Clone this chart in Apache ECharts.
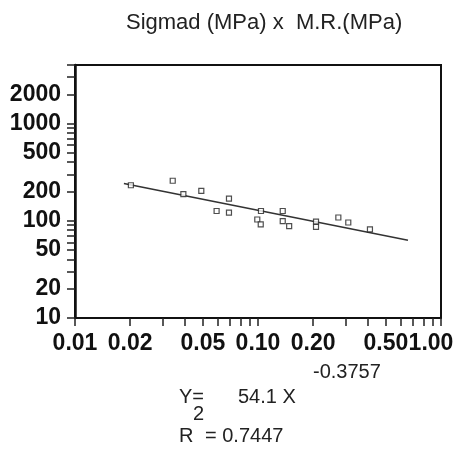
<!DOCTYPE html>
<html>
<head>
<meta charset="utf-8">
<script src="https://cdn.jsdelivr.net/npm/echarts@6/dist/echarts.min.js"></script>
<style>
  html, body { margin: 0; padding: 0; background: #fff; }
  #chart { width: 460px; height: 449px; }
</style>
</head>
<body>
<div id="chart"></div>
<script>
// ---- data ----
const titleText = 'Sigmad (MPa) x  M.R.(MPa)';
const sigmad = [0.0202, 0.0342, 0.0391, 0.0490, 0.0594, 0.0694, 0.0694, 0.1038, 0.0991, 0.1035,
                0.1365, 0.1365, 0.148, 0.2075, 0.2075, 0.2748, 0.3114, 0.409];
const mr = [232, 258, 188, 203, 126, 169, 121, 126, 103, 92,
            126, 99, 88, 98, 86.5, 108, 96, 81.5];
const fitX = [0.0185, 0.66];
const fitY = [242, 63];
const xTicks = [0.01, 0.02, 0.03, 0.04, 0.05, 0.06, 0.07, 0.08, 0.09, 0.1,
                0.2, 0.3, 0.4, 0.5, 0.6, 0.7, 0.8, 0.9, 1];
const xLabels = [0.01, 0.02, 0.05, 0.1, 0.2, 0.5, 1];
const yTicks = [10, 20, 30, 40, 50, 60, 70, 80, 90, 100, 200, 300, 400, 500, 600, 700, 800, 900,
                1000, 2000, 3000, 4000];
const yLabels = [10, 20, 50, 100, 200, 500, 1000, 2000];
const eqCoef = '54.1 X';
const eqExp = '-0.3757';
const eqR2 = '= 0.7447';

const chart = echarts.init(document.getElementById('chart'), null, { renderer: 'canvas' });

const labelFont = { fontFamily: 'Liberation Sans', fontWeight: 'bold', fontSize: 23, color: '#111' };
const eqFont = 'normal 20px "Liberation Sans"';

chart.setOption({
  animation: false,
  backgroundColor: '#fff',
  grid: { left: 75, right: 19, top: 65, bottom: 131, show: true, borderColor: '#111', borderWidth: 2, backgroundColor: 'transparent' },
  xAxis: {
    type: 'log', logBase: 10, min: 0.01, max: 1,
    axisLine: { show: true, lineStyle: { color: '#111', width: 2 } },
    axisTick: { show: true, inside: false, length: 8, customValues: xTicks, lineStyle: { color: '#222', width: 1.5 } },
    axisLabel: Object.assign({
      customValues: xLabels, margin: 14,
      formatter: function (v) {
        const s = Number(v).toFixed(2);
        return v >= 0.99 ? '{last|' + s + '}' : s;
      },
      rich: { last: { fontFamily: 'Liberation Sans', fontWeight: 'bold', fontSize: 23, color: '#111', padding: [0, 20, 0, 0] } }
    }, labelFont),
    splitLine: { show: false }, minorTick: { show: false }
  },
  yAxis: {
    type: 'log', logBase: 10, min: 10, max: 4000,
    axisLine: { show: true, lineStyle: { color: '#111', width: 2.5 } },
    axisTick: { show: true, inside: false, length: 8, customValues: yTicks, lineStyle: { color: '#222', width: 1.5 } },
    axisLabel: Object.assign({ customValues: yLabels, margin: 14, formatter: function (v) { return String(Math.round(v)); } }, labelFont),
    splitLine: { show: false }, minorTick: { show: false }
  },
  series: [
    {
      type: 'line',
      data: fitX.map((x, i) => [x, fitY[i]]),
      showSymbol: false, symbol: 'none',
      lineStyle: { color: '#333', width: 1.6 },
      z: 2
    },
    {
      type: 'scatter',
      data: sigmad.map((x, i) => [x, mr[i]]),
      symbol: 'rect', symbolSize: 5,
      itemStyle: { color: '#fff', borderColor: '#222', borderWidth: 1.2 },
      z: 3
    }
  ],
  graphic: [
    { type: 'text', x: 126, y: 34, style: { text: titleText, font: 'normal 22px "Liberation Sans"', fill: '#222', verticalAlign: 'bottom' } },
    { type: 'text', x: 179, y: 407, style: { text: 'Y=', font: eqFont, fill: '#222', verticalAlign: 'bottom' } },
    { type: 'text', x: 238, y: 407, style: { text: eqCoef, font: eqFont, fill: '#222', verticalAlign: 'bottom' } },
    { type: 'text', x: 313, y: 382, style: { text: eqExp, font: eqFont, fill: '#222', verticalAlign: 'bottom' } },
    { type: 'text', x: 193, y: 424, style: { text: '2', font: eqFont, fill: '#222', verticalAlign: 'bottom' } },
    { type: 'text', x: 179, y: 446, style: { text: 'R', font: eqFont, fill: '#222', verticalAlign: 'bottom' } },
    { type: 'text', x: 205, y: 446, style: { text: eqR2, font: eqFont, fill: '#222', verticalAlign: 'bottom' } }
  ]
});
</script>
</body>
</html>
